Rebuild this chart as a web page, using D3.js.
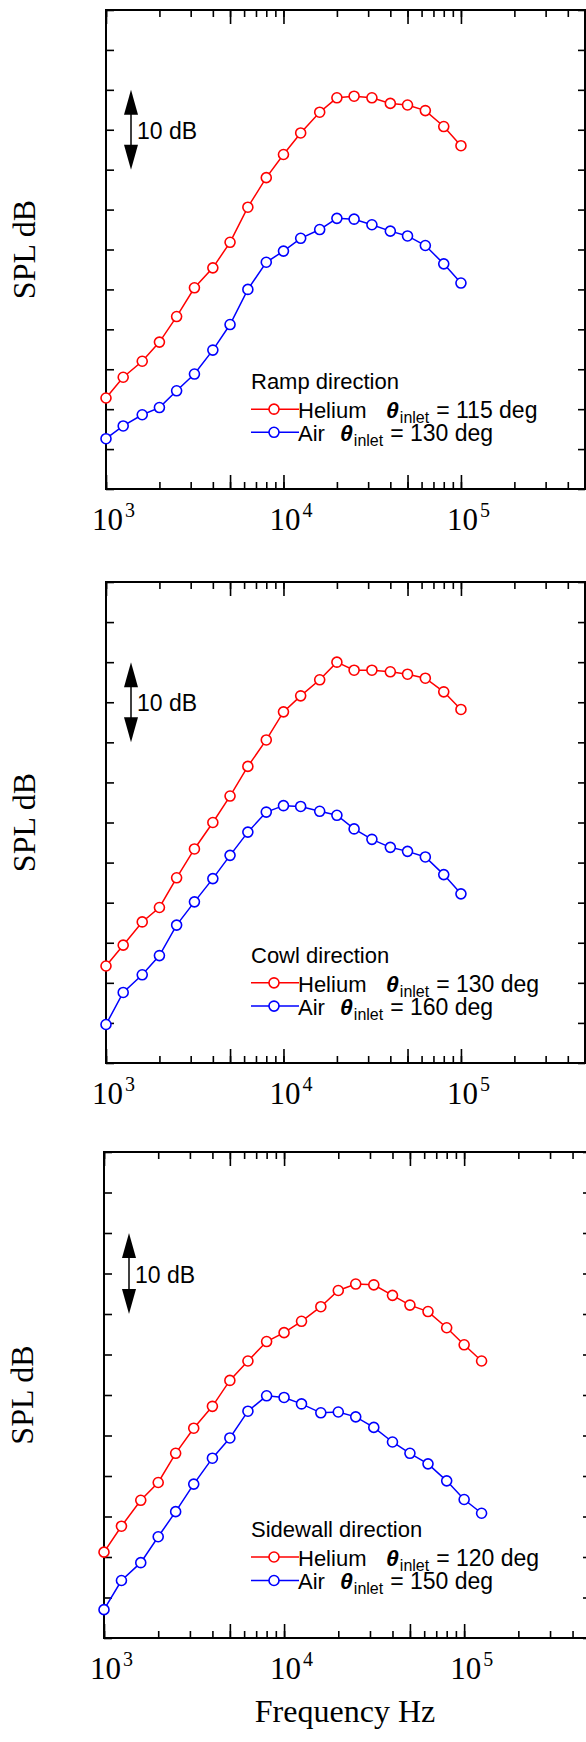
<!DOCTYPE html>
<html>
<head>
<meta charset="utf-8">
<script src="https://cdn.jsdelivr.net/npm/d3@7"></script>
<style>
  body { margin: 0; background: #fff; }
</style>
</head>
<body>
<script>
// third-octave band centre frequencies, Hz
const freqs = [1000, 1250, 1600, 2000, 2500, 3150, 4000, 5000, 6300, 8000, 10000,
    12500, 16000, 20000, 25000, 31500, 40000, 50000, 63000, 80000, 100000];
const freqsSidewall = [1000, 1250, 1600, 2000, 2500, 3150, 4000, 5000, 6300, 8000, 10000,
    12500, 16000, 20000, 25000, 31500, 40000, 50000, 63000, 80000, 100000, 125000];

// SPL (relative dB, 5 dB per tick)
const rampHelium = [11.4, 14.0, 16.0, 18.4, 21.6, 25.2, 27.7, 30.9, 35.3, 39.0, 41.9,
    44.6, 47.2, 49.0, 49.2, 49.0, 48.3, 48.1, 47.4, 45.4, 43.0];
const rampAir = [6.3, 7.9, 9.3, 10.2, 12.3, 14.4, 17.4, 20.6, 25.0, 28.4, 29.8,
    31.4, 32.5, 33.9, 33.8, 33.1, 32.3, 31.7, 30.5, 28.2, 25.8];
const cowlHelium = [12.1, 14.7, 17.6, 19.4, 23.1, 26.7, 30.0, 33.3, 37.0, 40.3, 43.8,
    45.8, 47.8, 50.0, 49.0, 49.0, 48.8, 48.5, 48.0, 46.3, 44.1];
const cowlAir = [4.8, 8.8, 11.0, 13.4, 17.2, 20.1, 23.0, 25.9, 28.8, 31.3, 32.1,
    32.0, 31.4, 30.9, 29.2, 27.9, 26.9, 26.4, 25.7, 23.5, 21.1];
const sideHelium = [10.6, 13.8, 17.0, 19.2, 22.8, 25.9, 28.6, 31.8, 34.2, 36.6, 37.7,
    39.1, 40.9, 42.9, 43.7, 43.6, 42.3, 41.1, 40.3, 38.3, 36.2, 34.2];
const sideAir = [3.5, 7.1, 9.3, 12.5, 15.6, 19.0, 22.2, 24.7, 28.0, 29.9, 29.7,
    28.9, 27.8, 27.9, 27.3, 26.0, 24.2, 22.8, 21.5, 19.4, 17.1, 15.4];

// texts
const panelTitles = ["Ramp direction", "Cowl direction", "Sidewall direction"];
const heliumAngles = [115, 130, 120];
const airAngles = [130, 160, 150];
const xTickExponents = [3, 4, 5];
const yTickValues = d3.range(0, 61, 5);

var width = 586, height = 1742;
var serif = "'Liberation Serif', 'Times New Roman', serif";
var sans = "'Liberation Sans', Arial, sans-serif";
var red = "#ff0000", blue = "#0000ff";

var svg = d3.select("body").append("svg")
    .attr("width", width)
    .attr("height", height);

// panel frames (pixels)
var panels = [
    { f: freqs, he: rampHelium, air: rampAir, left: 106, right: 585, top: 10, bottom: 489 },
    { f: freqs, he: cowlHelium, air: cowlAir, left: 106, right: 585, top: 582, bottom: 1063 },
    { f: freqsSidewall, he: sideHelium, air: sideAir, left: 104, right: 590, top: 1152, bottom: 1638 }
];

panels.forEach(function (p, i) {
    var x = d3.scaleLog().domain([1e3, 5e5]).range([p.left, p.right]);
    var y = d3.scaleLinear().domain([0, 60]).range([p.bottom, p.top]);
    var g = svg.append("g");

    var allTicks = x.ticks();
    var bigTicks = allTicks.filter(function (v) {
        var m = Math.round(v / Math.pow(10, Math.floor(Math.log10(v) + 1e-9)));
        return m === 1 || m === 5;
    });

    function tickAxis(axis, tx, ty) {
        var a = g.append("g")
            .attr("transform", "translate(" + tx + "," + ty + ")")
            .call(axis);
        a.select(".domain").remove();
        a.selectAll("line").attr("stroke", "black").attr("stroke-width", 1.6);
    }

    // inward ticks on all four sides
    tickAxis(d3.axisBottom(x).tickValues(allTicks).tickSize(-7).tickFormat(""), 0, p.bottom);
    tickAxis(d3.axisBottom(x).tickValues(bigTicks).tickSize(-14).tickFormat(""), 0, p.bottom);
    tickAxis(d3.axisTop(x).tickValues(allTicks).tickSize(-7).tickFormat(""), 0, p.top);
    tickAxis(d3.axisTop(x).tickValues(bigTicks).tickSize(-14).tickFormat(""), 0, p.top);
    tickAxis(d3.axisLeft(y).tickValues(yTickValues).tickSize(-8).tickFormat(""), p.left, 0);
    tickAxis(d3.axisRight(y).tickValues(yTickValues).tickSize(-7).tickFormat(""), p.right, 0);

    // frame
    g.append("rect")
        .attr("x", p.left)
        .attr("y", p.top)
        .attr("width", p.right - p.left)
        .attr("height", p.bottom - p.top)
        .attr("fill", "none")
        .attr("stroke", "black")
        .attr("stroke-width", 2);

    // x tick labels 10^n
    xTickExponents.forEach(function (e) {
        var t = g.append("text")
            .attr("x", x(Math.pow(10, e)) - 14)
            .attr("y", p.bottom + 41)
            .attr("font-family", serif)
            .attr("font-size", 31);
        t.append("tspan").text("10");
        t.append("tspan")
            .attr("dx", 2)
            .attr("dy", -13)
            .attr("font-size", 20)
            .text(e);
    });

    // y label
    g.append("text")
        .attr("transform", "translate(" + (p.left - 71) + "," + ((p.top + p.bottom) / 2) + ") rotate(-90)")
        .attr("text-anchor", "middle")
        .attr("font-family", serif)
        .attr("font-size", 32)
        .text("SPL dB");

    // 10 dB arrow
    var ax = p.left + 25;
    var headH = 25, headW = 7;
    g.append("line")
        .attr("x1", ax).attr("x2", ax)
        .attr("y1", y(50) + headH - 2).attr("y2", y(40) - headH + 2)
        .attr("stroke", "black")
        .attr("stroke-width", 1.5);
    g.append("path")
        .attr("d", "M" + ax + "," + y(50) + "L" + (ax + headW) + "," + (y(50) + headH) +
            "L" + (ax - headW) + "," + (y(50) + headH) + "Z")
        .attr("fill", "black");
    g.append("path")
        .attr("d", "M" + ax + "," + y(40) + "L" + (ax + headW) + "," + (y(40) - headH) +
            "L" + (ax - headW) + "," + (y(40) - headH) + "Z")
        .attr("fill", "black");
    g.append("text")
        .attr("x", ax + 6)
        .attr("y", y(45) + 9)
        .attr("font-family", sans)
        .attr("font-size", 23)
        .text("10 dB");

    // data
    var line = d3.line()
        .x(function (d) { return x(d[0]); })
        .y(function (d) { return y(d[1]); });

    [[p.air, blue], [p.he, red]].forEach(function (s) {
        var pts = p.f.map(function (f, k) { return [f, s[0][k]]; });
        g.append("path")
            .datum(pts)
            .attr("fill", "none")
            .attr("stroke", s[1])
            .attr("stroke-width", 1.5)
            .attr("d", line);
        g.selectAll(null)
            .data(pts)
            .enter().append("circle")
            .attr("cx", function (d) { return x(d[0]); })
            .attr("cy", function (d) { return y(d[1]); })
            .attr("r", 5)
            .attr("fill", "white")
            .attr("stroke", s[1])
            .attr("stroke-width", 1.6);
    });

    // legend
    var lx = 251;
    g.append("text")
        .attr("x", lx)
        .attr("y", y(13) + 4)
        .attr("font-family", sans)
        .attr("font-size", 22)
        .text(panelTitles[i]);

    var rows = [
        { c: red, name: "Helium", yv: 10.0, th: 386, ang: heliumAngles[i] },
        { c: blue, name: "Air", yv: 7.1, th: 340, ang: airAngles[i] }
    ];
    rows.forEach(function (r) {
        var ry = y(r.yv);
        g.append("line")
            .attr("x1", lx).attr("x2", lx + 48)
            .attr("y1", ry).attr("y2", ry)
            .attr("stroke", r.c)
            .attr("stroke-width", 1.5);
        g.append("circle")
            .attr("cx", lx + 23).attr("cy", ry)
            .attr("r", 5)
            .attr("fill", "white")
            .attr("stroke", r.c)
            .attr("stroke-width", 1.6);
        g.append("text")
            .attr("x", lx + 47)
            .attr("y", ry + 9)
            .attr("font-family", sans)
            .attr("font-size", 22)
            .text(r.name);
        var t = g.append("text")
            .attr("x", r.th)
            .attr("y", ry + 9)
            .attr("font-family", sans)
            .attr("font-size", 22);
        t.append("tspan")
            .attr("font-weight", "bold")
            .attr("font-style", "italic")
            .attr("font-size", 23)
            .text("\u03b8");
        t.append("tspan")
            .attr("dx", 1)
            .attr("dy", 5)
            .attr("font-size", 16)
            .text("inlet");
        t.append("tspan")
            .attr("dx", 7)
            .attr("dy", -5)
            .attr("font-size", 23)
            .text("= " + r.ang + " deg");
    });
});

// x label
svg.append("text")
    .attr("x", 345)
    .attr("y", 1722)
    .attr("text-anchor", "middle")
    .attr("font-family", serif)
    .attr("font-size", 32)
    .text("Frequency Hz");
</script>
</body>
</html>
